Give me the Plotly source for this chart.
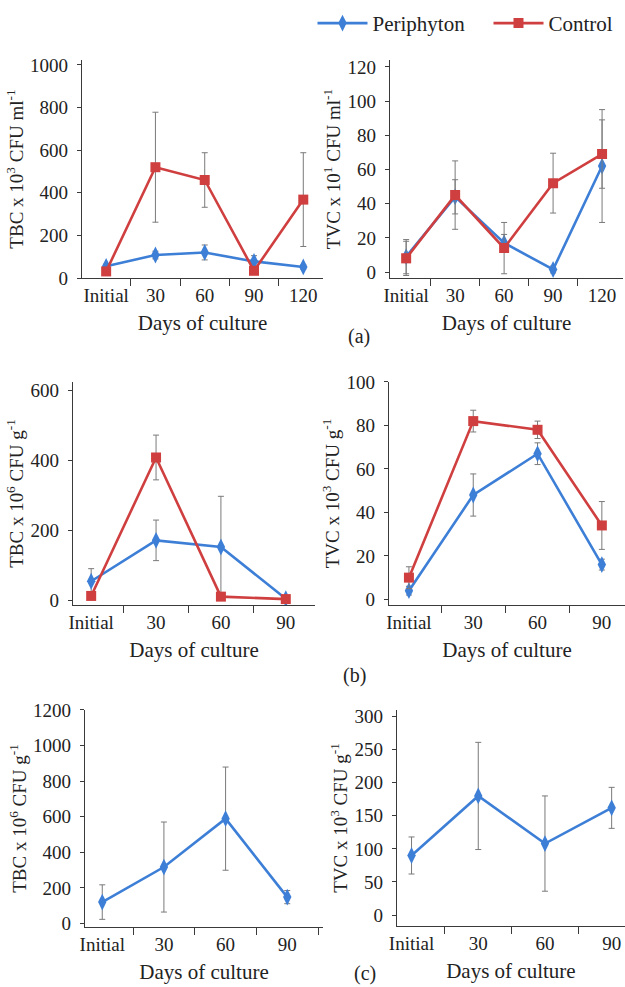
import plotly.graph_objects as go

# ---------------- data ----------------
cat_a = ["Initial", "30", "60", "90", "120"]
cat_bc = ["Initial", "30", "60", "90"]

# (a) water
a_tbc_peri = [55, 108, 120, 78, 52]
a_tbc_peri_err = [10, 18, 35, 27, 10]
a_tbc_ctrl = [31, 520, 460, 34, 368]
a_tbc_ctrl_err = [5, 258, 128, 5, 220]

a_tvc_peri = [9, 44, 17, 1.5, 62]
a_tvc_peri_err = [10, 10, 5, 2, 33]
a_tvc_ctrl = [8, 45, 14, 52, 69]
a_tvc_ctrl_err = [10, 20, 15, 17.5, 20]

# (b) sediment
b_tbc_peri = [54, 171, 152, 4]
b_tbc_peri_err = [36, 58, 145, 6]
b_tbc_ctrl = [12, 408, 10, 3]
b_tbc_ctrl_err = [5, 64, 5, 3]

b_tvc_peri = [4, 48, 67, 16]
b_tvc_peri_err = [2, 9.7, 5, 2.5]
b_tvc_ctrl = [10, 82, 78, 34]
b_tvc_ctrl_err = [5, 5, 4, 11]

# (c) periphyton
c_tbc_peri = [120, 317, 589, 148]
c_tbc_peri_err = [97, 253, 290, 37]
c_tvc_peri = [90, 180, 108, 162]
c_tvc_peri_err = [28, 81, 72, 31]

# ---------------- style ----------------
BLUE = "#3d7fd6"
RED = "#d03f3f"
ERR = "#7a7a7a"
AX = "#3a3a3a"
FONT = "Liberation Serif"

fig = go.Figure()


def add(x, y, err, name, color, symbol, size, xa, ya, show):
    fig.add_trace(go.Scatter(
        x=x, y=y, name=name, mode="lines+markers",
        line=dict(color=color, width=2.6),
        marker=dict(color=color, symbol=symbol, size=size),
        error_y=dict(type="data", array=err, color=ERR, thickness=1, width=3),
        xaxis=xa, yaxis=ya, showlegend=show, legendgroup=name,
    ))


add(cat_a, a_tbc_peri, a_tbc_peri_err, "Periphyton", BLUE, "diamond-tall", 12, "x", "y", True)
add(cat_a, a_tbc_ctrl, a_tbc_ctrl_err, "Control", RED, "square", 10, "x", "y", True)
add(cat_a, a_tvc_peri, a_tvc_peri_err, "Periphyton", BLUE, "diamond-tall", 12, "x2", "y2", False)
add(cat_a, a_tvc_ctrl, a_tvc_ctrl_err, "Control", RED, "square", 10, "x2", "y2", False)
add(cat_bc, b_tbc_peri, b_tbc_peri_err, "Periphyton", BLUE, "diamond-tall", 12, "x3", "y3", False)
add(cat_bc, b_tbc_ctrl, b_tbc_ctrl_err, "Control", RED, "square", 10, "x3", "y3", False)
add(cat_bc, b_tvc_peri, b_tvc_peri_err, "Periphyton", BLUE, "diamond-tall", 12, "x4", "y4", False)
add(cat_bc, b_tvc_ctrl, b_tvc_ctrl_err, "Control", RED, "square", 10, "x4", "y4", False)
add(cat_bc, c_tbc_peri, c_tbc_peri_err, "Periphyton", BLUE, "diamond-tall", 12, "x5", "y5", False)
add(cat_bc, c_tvc_peri, c_tvc_peri_err, "Periphyton", BLUE, "diamond-tall", 12, "x6", "y6", False)


def xax(domain, rng, anchor):
    return dict(
        type="category", domain=domain, range=rng, anchor=anchor,
        showline=True, linecolor=AX, linewidth=1.2, showgrid=False, zeroline=False,
        ticks="outside", tickson="boundaries", ticklen=7, tickcolor=AX, tickwidth=1,
        tickangle=0, automargin=False,
        tickfont=dict(family=FONT, size=19, color="#222"),
        title=dict(text="Days of culture", font=dict(family=FONT, size=21, color="#222"), standoff=10),
    )


def yax(domain, rng, dtick, anchor, title, standoff):
    return dict(
        domain=domain, range=rng, anchor=anchor, tick0=0, dtick=dtick,
        showline=True, linecolor=AX, linewidth=1.2, showgrid=False, zeroline=False,
        ticks="outside", ticklen=4, tickcolor=AX, tickwidth=1, ticklabelstandoff=5,
        automargin=False,
        tickfont=dict(family=FONT, size=19, color="#222"),
        title=dict(text=title, font=dict(family=FONT, size=19, color="#222"), standoff=standoff),
    )


ya_dom = [0.7183, 0.9392]
yb_dom = [0.387, 0.613]
yc_dom = [0.0608, 0.2807]

fig.update_layout(
    width=625, height=987,
    margin=dict(l=0, r=0, t=0, b=0, autoexpand=False),
    paper_bgcolor="white", plot_bgcolor="white",
    font=dict(family=FONT, color="#222"),
    xaxis=xax([0.1312, 0.5168], [-0.49, 4.4], "y"),
    yaxis=yax(ya_dom, [0, 1023], 200, "x", "TBC x 10<sup>3</sup> CFU ml<sup>-1</sup>", 1),
    xaxis2=xax([0.624, 0.997], [-0.33, 4.43], "y2"),
    yaxis2=yax(ya_dom, [-3.5, 124], 20, "x2", "TVC x 10<sup>1</sup> CFU ml<sup>-1</sup>", 1),
    xaxis3=xax([0.1168, 0.504], [-0.28, 3.45], "y3"),
    yaxis3=yax(yb_dom, [-14, 624], 200, "x3", "TBC x 10<sup>6</sup> CFU g<sup>-1</sup>", 1),
    xaxis4=xax([0.6224, 1.0], [-0.31, 3.36], "y4"),
    yaxis4=yax(yb_dom, [-2.6, 100], 20, "x4", "TVC x 10<sup>3</sup> CFU g<sup>-1</sup>", 1),
    xaxis5=xax([0.136, 0.5168], [-0.28, 3.58], "y5"),
    yaxis5=yax(yc_dom, [-20, 1200], 200, "x5", "TBC x 10<sup>6</sup> CFU g<sup>-1</sup>", 1),
    xaxis6=xax([0.635, 1.0], [-0.22, 3.2], "y6"),
    yaxis6=yax([0.0618, 0.2807], [-16.6, 310], 50, "x6", "TVC x 10<sup>3</sup> CFU g<sup>-1</sup>", 1),
    legend=dict(
        orientation="h", x=0.5, xanchor="left", y=0.997, yanchor="top",
        font=dict(family=FONT, size=21, color="#222"),
        bgcolor="rgba(0,0,0,0)", itemwidth=50, entrywidth=111, entrywidthmode="pixels",
    ),
    showlegend=True,
)

for txt, x, y in [("(a)", 0.574, 0.6586), ("(b)", 0.568, 0.316), ("(c)", 0.584, 0.0135)]:
    fig.add_annotation(text=txt, x=x, y=y, xref="paper", yref="paper",
                       showarrow=False, xanchor="center", yanchor="middle",
                       font=dict(family=FONT, size=20, color="#222"))

fig.write_html(
    "out.html",
    config={"displayModeBar": False},
    post_script="document.body.style.margin='0';document.body.style.overflow='hidden';",
)
